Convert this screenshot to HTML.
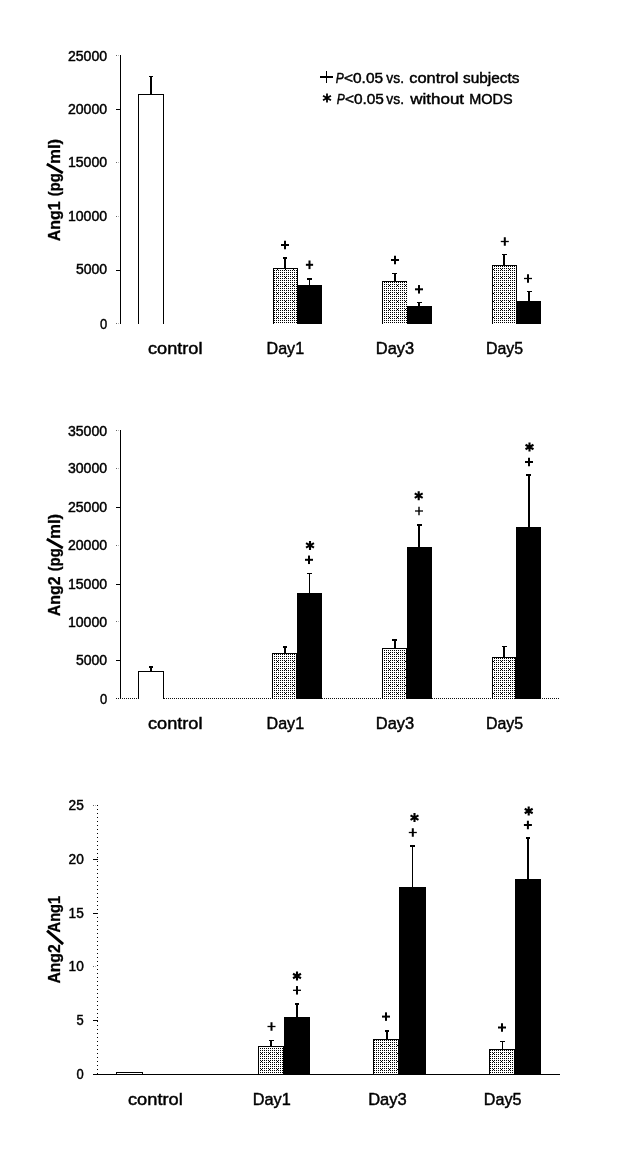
<!DOCTYPE html>
<html><head><meta charset="utf-8"><title>Ang1 / Ang2 charts</title>
<style>html,body{margin:0;padding:0;background:#fff;}svg{display:block;filter:grayscale(1);}text{font-family:"Liberation Sans",sans-serif;fill:#000;stroke:#000;stroke-width:0.45px;}</style>
</head><body>
<svg width="629" height="1160" viewBox="0 0 629 1160" shape-rendering="crispEdges">
<defs><pattern id="dots" x="0" y="0" width="8" height="8" patternUnits="userSpaceOnUse">
<rect x="0" y="0" width="1" height="1" fill="#000"/>
<rect x="2" y="0" width="1" height="1" fill="#000"/>
<rect x="4" y="0" width="1" height="1" fill="#000"/>
<rect x="6" y="0" width="1" height="1" fill="#000"/>
<rect x="0" y="2" width="1" height="1" fill="#000"/>
<rect x="2" y="2" width="1" height="1" fill="#000"/>
<rect x="4" y="2" width="1" height="1" fill="#000"/>
<rect x="6" y="2" width="1" height="1" fill="#000"/>
<rect x="0" y="4" width="1" height="1" fill="#000"/>
<rect x="2" y="4" width="1" height="1" fill="#000"/>
<rect x="4" y="4" width="1" height="1" fill="#000"/>
<rect x="6" y="4" width="1" height="1" fill="#000"/>
<rect x="0" y="6" width="1" height="1" fill="#000"/>
<rect x="2" y="6" width="1" height="1" fill="#000"/>
<rect x="4" y="6" width="1" height="1" fill="#000"/>
<rect x="6" y="6" width="1" height="1" fill="#000"/>
<rect x="5" y="5" width="1" height="1" fill="#000"/>
</pattern></defs>
<rect x="0" y="0" width="629" height="1160" fill="#fff"/>
<g id="panel1">
<rect x="120" y="55" width="1" height="269" fill="#000"/>
<rect x="116" y="323" width="1" height="1" fill="#666"/>
<rect x="118" y="323" width="1" height="1" fill="#bbb"/>
<text x="99.9" y="328.6" font-size="14.3" textLength="7.2" lengthAdjust="spacingAndGlyphs">0</text>
<rect x="116" y="270" width="4" height="1" fill="#000"/>
<text x="75.9" y="274.2" font-size="14.3" textLength="31.2" lengthAdjust="spacingAndGlyphs">5000</text>
<rect x="116" y="216" width="1" height="1" fill="#666"/>
<rect x="118" y="216" width="1" height="1" fill="#bbb"/>
<text x="67.9" y="221.2" font-size="14.3" textLength="39.2" lengthAdjust="spacingAndGlyphs">10000</text>
<rect x="116" y="162" width="1" height="1" fill="#666"/>
<rect x="118" y="162" width="1" height="1" fill="#bbb"/>
<text x="67.9" y="166.9" font-size="14.3" textLength="39.2" lengthAdjust="spacingAndGlyphs">15000</text>
<rect x="116" y="109" width="4" height="1" fill="#000"/>
<text x="67.9" y="113.9" font-size="14.3" textLength="39.2" lengthAdjust="spacingAndGlyphs">20000</text>
<rect x="116" y="55" width="1" height="1" fill="#666"/>
<rect x="118" y="55" width="1" height="1" fill="#bbb"/>
<text x="67.9" y="60.9" font-size="14.3" textLength="39.2" lengthAdjust="spacingAndGlyphs">25000</text>
<rect x="138" y="94" width="26" height="230" fill="#000"/>
<rect x="139" y="95" width="24" height="229" fill="#fff"/>
<rect x="150" y="76" width="2" height="18" fill="#000"/>
<rect x="149" y="76" width="4" height="1" fill="#000"/>
<rect x="273" y="268" width="25" height="56" fill="#000"/>
<rect x="274" y="269" width="23" height="55" fill="#fff"/>
<rect x="274" y="269" width="23" height="55" fill="url(#dots)"/>
<rect x="284" y="257" width="2" height="11" fill="#000"/>
<rect x="283" y="257" width="4" height="2" fill="#000"/>
<rect x="297" y="285" width="25" height="39" fill="#000"/>
<rect x="309" y="278" width="1" height="7" fill="#000"/>
<rect x="307" y="278" width="5" height="2" fill="#000"/>
<rect x="382" y="281" width="25" height="43" fill="#000"/>
<rect x="383" y="282" width="24" height="42" fill="#fff"/>
<rect x="383" y="282" width="24" height="42" fill="url(#dots)"/>
<rect x="394" y="273" width="2" height="8" fill="#000"/>
<rect x="392" y="273" width="5" height="1" fill="#000"/>
<rect x="407" y="306" width="25" height="18" fill="#000"/>
<rect x="418" y="302" width="2" height="4" fill="#000"/>
<rect x="417" y="302" width="5" height="1" fill="#000"/>
<rect x="492" y="265" width="25" height="59" fill="#000"/>
<rect x="493" y="266" width="23" height="58" fill="#fff"/>
<rect x="493" y="266" width="23" height="58" fill="url(#dots)"/>
<rect x="503" y="254" width="2" height="11" fill="#000"/>
<rect x="502" y="254" width="5" height="1" fill="#000"/>
<rect x="516" y="301" width="25" height="23" fill="#000"/>
<rect x="528" y="291" width="2" height="10" fill="#000"/>
<rect x="527" y="291" width="5" height="1" fill="#000"/>
<rect x="281.0" y="244.0" width="8" height="2" fill="#000" shape-rendering="auto"/>
<rect x="284.0" y="240.75" width="2" height="8.5" fill="#000" shape-rendering="auto"/>
<rect x="305.9" y="263.8" width="7.2" height="2" fill="#000" shape-rendering="auto"/>
<rect x="308.5" y="260.5" width="2" height="8.6" fill="#000" shape-rendering="auto"/>
<rect x="391.0" y="259.0" width="8" height="2" fill="#000" shape-rendering="auto"/>
<rect x="394.0" y="255.75" width="2" height="8.5" fill="#000" shape-rendering="auto"/>
<rect x="415.0" y="288.3" width="8" height="2" fill="#000" shape-rendering="auto"/>
<rect x="418.0" y="285.05" width="2" height="8.5" fill="#000" shape-rendering="auto"/>
<rect x="500.8" y="240.85" width="8" height="1.3" fill="#000" shape-rendering="auto"/>
<rect x="503.8" y="237.25" width="2" height="8.5" fill="#000" shape-rendering="auto"/>
<rect x="524.0" y="277.85" width="8" height="1.3" fill="#000" shape-rendering="auto"/>
<rect x="527.0" y="274.25" width="2" height="8.5" fill="#000" shape-rendering="auto"/>
<text x="148" y="353.6" font-size="16.7" textLength="54.5" lengthAdjust="spacingAndGlyphs">control</text>
<text x="266.5" y="353.6" font-size="16.7" textLength="37.6" lengthAdjust="spacingAndGlyphs">Day1</text>
<text x="375.8" y="353.6" font-size="16.7" textLength="38.4" lengthAdjust="spacingAndGlyphs">Day3</text>
<text x="486" y="353.6" font-size="16.7" textLength="37.2" lengthAdjust="spacingAndGlyphs">Day5</text>
</g>
<g id="panel2">
<rect x="120" y="430" width="1" height="269" fill="#000"/>
<rect x="116" y="698" width="1" height="1" fill="#666"/>
<rect x="118" y="698" width="1" height="1" fill="#bbb"/>
<text x="99.9" y="703.6" font-size="14.3" textLength="7.2" lengthAdjust="spacingAndGlyphs">0</text>
<rect x="116" y="660" width="4" height="1" fill="#000"/>
<text x="75.9" y="664.8" font-size="14.3" textLength="31.2" lengthAdjust="spacingAndGlyphs">5000</text>
<rect x="116" y="621" width="1" height="1" fill="#666"/>
<rect x="118" y="621" width="1" height="1" fill="#bbb"/>
<text x="67.9" y="626.5" font-size="14.3" textLength="39.2" lengthAdjust="spacingAndGlyphs">10000</text>
<rect x="116" y="584" width="4" height="1" fill="#000"/>
<text x="67.9" y="589.0" font-size="14.3" textLength="39.2" lengthAdjust="spacingAndGlyphs">15000</text>
<rect x="116" y="545" width="1" height="1" fill="#666"/>
<rect x="118" y="545" width="1" height="1" fill="#bbb"/>
<text x="67.9" y="550.2" font-size="14.3" textLength="39.2" lengthAdjust="spacingAndGlyphs">20000</text>
<rect x="116" y="507" width="4" height="1" fill="#000"/>
<text x="67.9" y="512.2" font-size="14.3" textLength="39.2" lengthAdjust="spacingAndGlyphs">25000</text>
<rect x="116" y="468" width="1" height="1" fill="#666"/>
<rect x="118" y="468" width="1" height="1" fill="#bbb"/>
<text x="67.9" y="473.4" font-size="14.3" textLength="39.2" lengthAdjust="spacingAndGlyphs">30000</text>
<rect x="116" y="430" width="1" height="1" fill="#666"/>
<rect x="118" y="430" width="1" height="1" fill="#bbb"/>
<text x="67.9" y="435.6" font-size="14.3" textLength="39.2" lengthAdjust="spacingAndGlyphs">35000</text>
<line x1="116" y1="698.5" x2="560" y2="698.5" stroke="#111" stroke-width="1" stroke-dasharray="1 1"/>
<rect x="138" y="671" width="26" height="28" fill="#000"/>
<rect x="139" y="672" width="24" height="27" fill="#fff"/>
<rect x="150" y="666" width="2" height="5" fill="#000"/>
<rect x="149" y="666" width="4" height="2" fill="#000"/>
<rect x="272" y="653" width="25" height="46" fill="#000"/>
<rect x="273" y="654" width="23" height="45" fill="#fff"/>
<rect x="273" y="654" width="23" height="45" fill="url(#dots)"/>
<rect x="284" y="646" width="2" height="7" fill="#000"/>
<rect x="283" y="646" width="4" height="2" fill="#000"/>
<rect x="297" y="593" width="25" height="106" fill="#000"/>
<rect x="309" y="573" width="1" height="20" fill="#000"/>
<rect x="307" y="573" width="5" height="1" fill="#000"/>
<rect x="382" y="648" width="25" height="51" fill="#000"/>
<rect x="383" y="649" width="23" height="50" fill="#fff"/>
<rect x="383" y="649" width="23" height="50" fill="url(#dots)"/>
<rect x="394" y="639" width="2" height="9" fill="#000"/>
<rect x="392" y="639" width="5" height="2" fill="#000"/>
<rect x="407" y="547" width="25" height="152" fill="#000"/>
<rect x="418" y="524" width="2" height="23" fill="#000"/>
<rect x="417" y="524" width="5" height="2" fill="#000"/>
<rect x="492" y="657" width="24" height="42" fill="#000"/>
<rect x="493" y="658" width="22" height="41" fill="#fff"/>
<rect x="493" y="658" width="22" height="41" fill="url(#dots)"/>
<rect x="503" y="646" width="2" height="11" fill="#000"/>
<rect x="502" y="646" width="5" height="1" fill="#000"/>
<rect x="516" y="527" width="25" height="172" fill="#000"/>
<rect x="528" y="474" width="2" height="53" fill="#000"/>
<rect x="526" y="474" width="5" height="2" fill="#000"/>
<rect x="305.0" y="558.8" width="8" height="2" fill="#000" shape-rendering="auto"/>
<rect x="308.0" y="555.55" width="2" height="8.5" fill="#000" shape-rendering="auto"/>
<rect x="415.0" y="510.35" width="8" height="1.3" fill="#000" shape-rendering="auto"/>
<rect x="418.3" y="506.75" width="1.4" height="8.5" fill="#000" shape-rendering="auto"/>
<rect x="525.0" y="461.0" width="8" height="2" fill="#000" shape-rendering="auto"/>
<rect x="528.0" y="457.75" width="2" height="8.5" fill="#000" shape-rendering="auto"/>
<path d="M310.00 540.90L310.00 549.90M306.02 543.15L313.98 547.65M313.98 543.15L306.02 547.65" stroke="#000" stroke-width="2.1" fill="none" shape-rendering="auto"/>
<path d="M418.70 491.20L418.70 500.20M414.72 493.45L422.68 497.95M422.68 493.45L414.72 497.95" stroke="#000" stroke-width="2.1" fill="none" shape-rendering="auto"/>
<path d="M529.50 442.50L529.50 451.50M525.52 444.75L533.48 449.25M533.48 444.75L525.52 449.25" stroke="#000" stroke-width="2.1" fill="none" shape-rendering="auto"/>
<text x="148" y="729" font-size="16.7" textLength="54.5" lengthAdjust="spacingAndGlyphs">control</text>
<text x="266.5" y="729" font-size="16.7" textLength="37.6" lengthAdjust="spacingAndGlyphs">Day1</text>
<text x="375.8" y="729" font-size="16.7" textLength="38.4" lengthAdjust="spacingAndGlyphs">Day3</text>
<text x="486" y="729" font-size="16.7" textLength="37.2" lengthAdjust="spacingAndGlyphs">Day5</text>
</g>
<g id="panel3">
<line x1="97.5" y1="805" x2="97.5" y2="1074" stroke="#000" stroke-width="1" stroke-dasharray="1 3"/>
<text x="76.6" y="1078.6" font-size="14.3" textLength="7.2" lengthAdjust="spacingAndGlyphs">0</text>
<rect x="93" y="1020" width="5" height="1" fill="#000"/>
<text x="76.6" y="1024.8" font-size="14.3" textLength="7.2" lengthAdjust="spacingAndGlyphs">5</text>
<rect x="93" y="966" width="1" height="1" fill="#666"/>
<rect x="95" y="966" width="1" height="1" fill="#bbb"/>
<text x="68.6" y="971.2" font-size="14.3" textLength="15.2" lengthAdjust="spacingAndGlyphs">10</text>
<rect x="93" y="913" width="5" height="1" fill="#000"/>
<text x="68.6" y="917.6" font-size="14.3" textLength="15.2" lengthAdjust="spacingAndGlyphs">15</text>
<rect x="93" y="859" width="5" height="1" fill="#000"/>
<text x="68.6" y="863.9" font-size="14.3" textLength="15.2" lengthAdjust="spacingAndGlyphs">20</text>
<rect x="93" y="805" width="1" height="1" fill="#666"/>
<rect x="95" y="805" width="1" height="1" fill="#bbb"/>
<text x="68.6" y="810.1" font-size="14.3" textLength="15.2" lengthAdjust="spacingAndGlyphs">25</text>
<rect x="116" y="1072" width="27" height="2" fill="#000"/>
<rect x="117" y="1073" width="25" height="1" fill="#fff"/>
<rect x="258" y="1046" width="26" height="28" fill="#000"/>
<rect x="259" y="1047" width="24" height="27" fill="#fff"/>
<rect x="259" y="1047" width="24" height="27" fill="url(#dots)"/>
<rect x="270" y="1040" width="2" height="6" fill="#000"/>
<rect x="269" y="1040" width="5" height="1" fill="#000"/>
<rect x="284" y="1017" width="26" height="57" fill="#000"/>
<rect x="296" y="1003" width="2" height="14" fill="#000"/>
<rect x="295" y="1003" width="4" height="2" fill="#000"/>
<rect x="373" y="1039" width="26" height="35" fill="#000"/>
<rect x="374" y="1040" width="24" height="34" fill="#fff"/>
<rect x="374" y="1040" width="24" height="34" fill="url(#dots)"/>
<rect x="386" y="1030" width="2" height="9" fill="#000"/>
<rect x="385" y="1030" width="4" height="2" fill="#000"/>
<rect x="399" y="887" width="27" height="187" fill="#000"/>
<rect x="412" y="845" width="1" height="42" fill="#000"/>
<rect x="410" y="845" width="5" height="2" fill="#000"/>
<rect x="489" y="1049" width="26" height="25" fill="#000"/>
<rect x="490" y="1050" width="24" height="24" fill="#fff"/>
<rect x="490" y="1050" width="24" height="24" fill="url(#dots)"/>
<rect x="502" y="1041" width="1" height="8" fill="#000"/>
<rect x="500" y="1041" width="5" height="1" fill="#000"/>
<rect x="515" y="879" width="26" height="195" fill="#000"/>
<rect x="527" y="837" width="2" height="42" fill="#000"/>
<rect x="526" y="837" width="4" height="2" fill="#000"/>
<rect x="93" y="1074" width="467" height="1" fill="#000"/>
<rect x="267.5" y="1025.85" width="8" height="1.3" fill="#000" shape-rendering="auto"/>
<rect x="270.5" y="1022.25" width="2" height="8.5" fill="#000" shape-rendering="auto"/>
<rect x="293.0" y="989.65" width="8" height="1.3" fill="#000" shape-rendering="auto"/>
<rect x="296.0" y="986.05" width="2" height="8.5" fill="#000" shape-rendering="auto"/>
<rect x="382.0" y="1015.6" width="8" height="2" fill="#000" shape-rendering="auto"/>
<rect x="385.0" y="1012.35" width="2" height="8.5" fill="#000" shape-rendering="auto"/>
<rect x="408.8" y="831.85" width="8" height="1.3" fill="#000" shape-rendering="auto"/>
<rect x="411.8" y="828.25" width="2" height="8.5" fill="#000" shape-rendering="auto"/>
<rect x="498.0" y="1026.5" width="8" height="2" fill="#000" shape-rendering="auto"/>
<rect x="501.0" y="1023.25" width="2" height="8.5" fill="#000" shape-rendering="auto"/>
<rect x="523.9" y="824.0" width="8" height="2" fill="#000" shape-rendering="auto"/>
<rect x="526.9" y="820.75" width="2" height="8.5" fill="#000" shape-rendering="auto"/>
<path d="M297.00 971.50L297.00 980.50M293.02 973.75L300.98 978.25M300.98 973.75L293.02 978.25" stroke="#000" stroke-width="2.1" fill="none" shape-rendering="auto"/>
<path d="M414.50 813.10L414.50 822.10M410.52 815.35L418.48 819.85M418.48 815.35L410.52 819.85" stroke="#000" stroke-width="2.1" fill="none" shape-rendering="auto"/>
<path d="M528.70 806.50L528.70 815.50M524.72 808.75L532.68 813.25M532.68 808.75L524.72 813.25" stroke="#000" stroke-width="2.1" fill="none" shape-rendering="auto"/>
<text x="128" y="1104.6" font-size="16.7" textLength="54.7" lengthAdjust="spacingAndGlyphs">control</text>
<text x="252.8" y="1104.6" font-size="16.7" textLength="38" lengthAdjust="spacingAndGlyphs">Day1</text>
<text x="368.2" y="1104.6" font-size="16.7" textLength="38.6" lengthAdjust="spacingAndGlyphs">Day3</text>
<text x="483.8" y="1104.6" font-size="16.7" textLength="37.6" lengthAdjust="spacingAndGlyphs">Day5</text>
</g>
<g transform="translate(59.8,241.2) rotate(-90)" font-weight="bold" font-size="17">
<text x="0" y="0" textLength="39.8" lengthAdjust="spacingAndGlyphs" style="stroke-width:0.3px">Ang1</text>
<text x="45" y="0" textLength="22.8" lengthAdjust="spacingAndGlyphs" style="stroke-width:0.3px">(pg</text>
<path d="M68.2 3L77.2 -13" stroke="#000" stroke-width="2.9" fill="none" shape-rendering="auto"/>
<text x="77.1" y="0" textLength="25.3" lengthAdjust="spacingAndGlyphs" style="stroke-width:0.3px">ml)</text>
</g>
<g transform="translate(59.8,616.2) rotate(-90)" font-weight="bold" font-size="17">
<text x="0" y="0" textLength="39.8" lengthAdjust="spacingAndGlyphs" style="stroke-width:0.3px">Ang2</text>
<text x="45" y="0" textLength="22.8" lengthAdjust="spacingAndGlyphs" style="stroke-width:0.3px">(pg</text>
<path d="M68.2 3L77.2 -13" stroke="#000" stroke-width="2.9" fill="none" shape-rendering="auto"/>
<text x="77.1" y="0" textLength="25.3" lengthAdjust="spacingAndGlyphs" style="stroke-width:0.3px">ml)</text>
</g>
<g transform="translate(60.1,983.6) rotate(-90)" font-weight="bold" font-size="17.4">
<text x="0" y="0" textLength="39.3" lengthAdjust="spacingAndGlyphs" style="stroke-width:0.3px">Ang2</text>
<path d="M39.5 3L53.0 -13" stroke="#000" stroke-width="2.9" fill="none" shape-rendering="auto"/>
<text x="51.2" y="0" textLength="36.5" lengthAdjust="spacingAndGlyphs" style="stroke-width:0.3px">Ang1</text>
</g>
<g id="legend">
<rect x="320" y="76" width="13" height="2" fill="#000"/>
<rect x="326" y="71" width="1" height="12" fill="#000"/>
<text x="335.8" y="82.7" font-size="14.9" font-style="italic" textLength="8" lengthAdjust="spacingAndGlyphs">P</text>
<text x="344" y="82.7" font-size="14.9" textLength="39.1" lengthAdjust="spacingAndGlyphs">&lt;0.05</text>
<text x="386.3" y="82.7" font-size="14.9" textLength="17.7" lengthAdjust="spacingAndGlyphs">vs.</text>
<text x="409.3" y="82.7" font-size="14.9" textLength="49.2" lengthAdjust="spacingAndGlyphs">control</text>
<text x="463" y="82.7" font-size="14.9" textLength="56.5" lengthAdjust="spacingAndGlyphs">subjects</text>
<path d="M327.00 93.50L327.00 102.50M323.02 95.75L330.98 100.25M330.98 95.75L323.02 100.25" stroke="#000" stroke-width="1.8" fill="none" shape-rendering="auto"/>
<text x="336.7" y="104.4" font-size="14.9" font-style="italic" textLength="8" lengthAdjust="spacingAndGlyphs">P</text>
<text x="344.9" y="104.4" font-size="14.9" textLength="39" lengthAdjust="spacingAndGlyphs">&lt;0.05</text>
<text x="386.3" y="104.4" font-size="14.9" textLength="17.7" lengthAdjust="spacingAndGlyphs">vs.</text>
<text x="410.3" y="104.4" font-size="14.9" textLength="53.8" lengthAdjust="spacingAndGlyphs">without</text>
<text x="469.2" y="104.4" font-size="14.9" textLength="43.4" lengthAdjust="spacingAndGlyphs">MODS</text>
</g>
</svg></body></html>
